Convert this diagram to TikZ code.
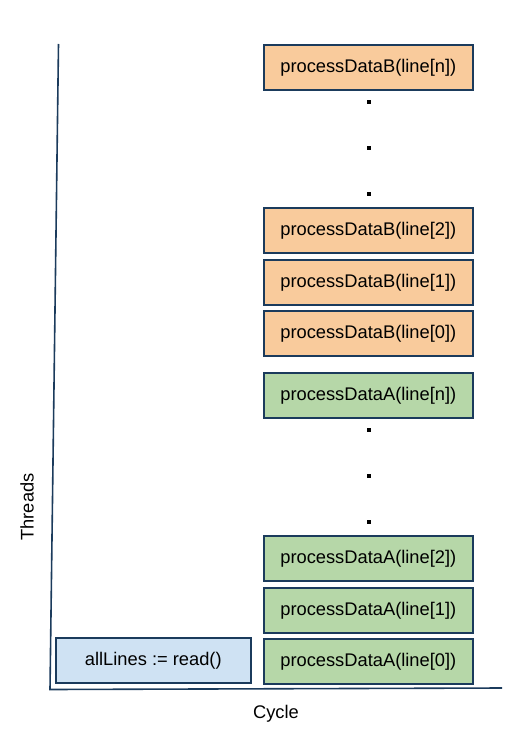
\documentclass[tikz,border=0pt]{standalone}
\usepackage{fontspec}
\setmainfont{Liberation Sans}
\definecolor{bord}{HTML}{1B3B5C}
\definecolor{orng}{HTML}{F9CB9C}
\definecolor{grn}{HTML}{B6D7A8}
\definecolor{blu}{HTML}{CFE2F3}
\begin{document}
\begin{tikzpicture}[x=1pt,y=-1pt,
  box/.style={draw=bord,line width=1.6pt,minimum width=209pt,minimum height=45pt,inner sep=0pt,font=\fontsize{18.3}{20}\selectfont,anchor=north west},
  dotm/.style={fill=black,minimum size=3.5pt,inner sep=0pt}]
\useasboundingbox (0,0) rectangle (511,735);
\node[box,fill=orng] (bn) at (263,44) {processDataB(line[n])};
\node[box,fill=orng] (b2) at (263,207) {processDataB(line[2])};
\node[box,fill=orng] (b1) at (263,259) {processDataB(line[1])};
\node[box,fill=orng] (b0) at (263,310) {processDataB(line[0])};
\node[box,fill=grn] (an) at (263,372) {processDataA(line[n])};
\node[box,fill=grn] (a2) at (263,535) {processDataA(line[2])};
\node[box,fill=grn] (a1) at (263,587) {processDataA(line[1])};
\node[box,fill=grn] (a0) at (263,638) {processDataA(line[0])};
\node[box,fill=blu,minimum width=195pt] (rd) at (55,637) {allLines := read()};
\foreach \y [count=\i] in {102,148,194} \node[dotm] (db\i) at (369,\y) {};
\foreach \y [count=\i] in {430,476,522} \node[dotm] (da\i) at (369,\y) {};
\coordinate (top) at (58.5,44);
\coordinate (org) at (50,689.5);
\coordinate (rt) at (502,688);
\draw[bord,line width=1.6pt] (top) -- (org) -- (rt);
\node[font=\fontsize{18.3}{20}\selectfont,rotate=90] (th) at (27,507) {Threads};
\node[font=\fontsize{18.3}{20}\selectfont] (cy) at (276,714) {Cycle};
\end{tikzpicture}
\end{document}
